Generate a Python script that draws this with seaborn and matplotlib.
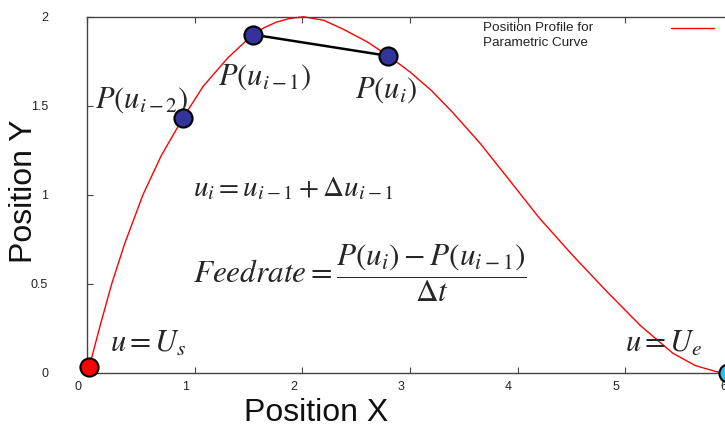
import matplotlib
matplotlib.use("Agg")
import matplotlib.pyplot as plt
import matplotlib.transforms as mtransforms
import seaborn as sns
import pandas as pd

# curve
curve_x = [0.02, 0.12, 0.23, 0.35, 0.52, 0.69, 0.89, 1.08, 1.31, 1.54, 1.65, 1.76,
           1.88, 2.01, 2.20, 2.38, 2.60, 2.80, 3.00, 3.20, 3.40, 3.65, 3.90, 4.20,
           4.51, 4.83, 5.14, 5.44, 5.65, 5.85, 5.95]
curve_y = [0.03, 0.26, 0.50, 0.725, 1.00, 1.22, 1.43, 1.61, 1.77, 1.90, 1.94, 1.97,
           1.99, 2.00, 1.98, 1.93, 1.86, 1.78, 1.69, 1.585, 1.46, 1.29, 1.10, 0.87,
           0.66, 0.455, 0.265, 0.11, 0.04, 0.005, 0.0]

# sampled points P(u_{i-2}), P(u_{i-1}), P(u_i)
pts_x = [0.89, 1.54, 2.80]
pts_y = [1.43, 1.90, 1.78]
start_pt = (0.02, 0.03)
end_pt = (5.95, 0.0)

xticks = [0, 1, 2, 3, 4, 5, 6]
yticks = [0, 0.5, 1, 1.5, 2]
ytick_labels = ["0", "0.5", "1", "1.5", "2"]

sns.set_theme(style="ticks")
plt.rcParams["font.family"] = ["Liberation Sans", "DejaVu Sans"]
plt.rcParams["mathtext.fontset"] = "stix"

curve = pd.DataFrame({"x": curve_x, "y": curve_y})
pts = pd.DataFrame({"x": pts_x, "y": pts_y})

fig = plt.figure(figsize=(7.25, 4.3), dpi=100)
ax = fig.add_axes([0.12, 0.1333, 0.891, 0.8277])

sns.lineplot(data=curve, x="x", y="y", sort=False, color="red", linewidth=1.0,
             ax=ax, label="Position Profile for\nParametric Curve", clip_on=False)
ax.plot(pts_x[1:], pts_y[1:], color="black", linewidth=1.8, zorder=3)
sns.scatterplot(data=pts, x="x", y="y", s=170, color="#333399", edgecolor="black",
                linewidth=1.5, ax=ax, zorder=4, clip_on=False)
ax.scatter([start_pt[0]], [start_pt[1]], s=170, color="red", edgecolor="black",
           linewidth=1.5, zorder=4, clip_on=False)
ax.scatter([end_pt[0]], [end_pt[1]], s=170, color="#22c4f0", edgecolor="black",
           linewidth=1.5, zorder=4, clip_on=False)

ax.set_xlim(0, 6)
ax.set_ylim(0, 2)
ax.set_xticks(xticks)
ax.set_yticks(yticks)
ax.set_yticklabels(ytick_labels)
ax.tick_params(direction="in", length=4, width=0.8, top=True, colors="#444444",
               labelcolor="#222222", labelsize=9)
ax.tick_params(axis="y", pad=28)
ax.tick_params(axis="x", pad=6)
shift = mtransforms.ScaledTranslation(-9 / 100, 0, fig.dpi_scale_trans)
for lab in ax.get_xticklabels():
    lab.set_transform(lab.get_transform() + shift)
for side in ["left", "top", "bottom", "right"]:
    ax.spines[side].set_color("#444444")
    ax.spines[side].set_linewidth(1.0)

ax.set_xlabel("Position X", fontsize=23, color="#111111")
ax.set_ylabel("Position Y", fontsize=23, color="#111111")
ax.xaxis.set_label_coords(0.354, -0.072)
ax.yaxis.set_label_coords(-0.074, 0.51)

ax.text(0.07, 1.53, r"$P(u_{i-2})$", fontsize=22, ha="left", va="center")
ax.text(1.22, 1.66, r"$P(u_{i-1})$", fontsize=22, ha="left", va="center")
ax.text(2.49, 1.59, r"$P(u_{i})$", fontsize=22, ha="left", va="center")
ax.text(0.98, 1.04, r"$u_i = u_{i-1} + \Delta u_{i-1}$", fontsize=21, ha="left", va="center")
ax.text(0.98, 0.56, r"$Feedrate = \dfrac{P(u_i) - P(u_{i-1})}{\Delta t}$",
        fontsize=22.5, ha="left", va="center")
ax.text(0.21, 0.16, r"$u = U_s$", fontsize=22, ha="left", va="center")
ax.text(5.0, 0.16, r"$u = U_e$", fontsize=22, ha="left", va="center")

leg = ax.legend(loc="upper right", bbox_to_anchor=(0.985, 0.949),
                bbox_transform=fig.transFigure, frameon=False, markerfirst=False,
                fontsize=9.7, handlelength=3.2, handletextpad=5.8,
                borderpad=0, borderaxespad=0)
for t in leg.get_texts():
    t.set_color("#222222")
    t.set_linespacing(1.35)
# line sample sits level with the first text line, as in the original
for h in leg.get_lines():
    h.set_ydata([v + 5 for v in h.get_ydata()])

fig.savefig("out.png", dpi=100)
